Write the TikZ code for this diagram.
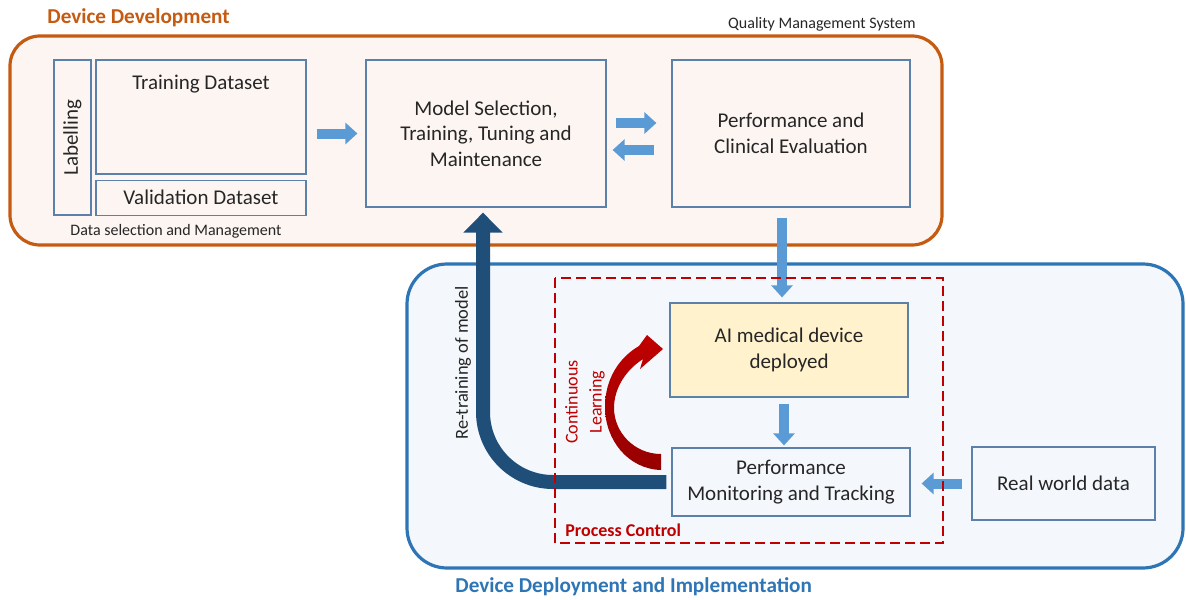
\documentclass[tikz,border=0pt]{standalone}
\usepackage{fontspec}
\setmainfont{Carlito}
\usetikzlibrary{arrows.meta,positioning}
\definecolor{devorange}{HTML}{C55A11}
\definecolor{devfill}{HTML}{FDF5F2}
\definecolor{depblue}{HTML}{2E75B6}
\definecolor{depfill}{HTML}{F4F8FC}
\definecolor{boxline}{HTML}{5B80AA}
\definecolor{aifill}{HTML}{FFF2CC}
\definecolor{arrowblue}{HTML}{5B9BD5}
\definecolor{retrainblue}{HTML}{1F4E79}
\definecolor{pcred}{HTML}{C00000}
\definecolor{cldark}{HTML}{960000}
\definecolor{txt}{HTML}{262626}

\begin{document}
\begin{tikzpicture}[x=0.5pt,y=-0.5pt,
box/.style={draw=boxline,line width=0.6pt,inner sep=0pt,align=center,text=txt,
  font=\fontsize{10.5}{12.75}\selectfont},
small/.style={text=txt,inner sep=0pt,font=\fontsize{8}{9.6}\selectfont},
title/.style={inner sep=0pt,font=\fontsize{10.6}{12.7}\selectfont\bfseries},
blockarrow/.style={-{Triangle[width=10.5pt,length=6pt]},line width=5pt,draw=arrowblue},
retrainarrow/.style={-{Triangle[width=19pt,length=10pt]},line width=7pt,draw=retrainblue}]
\useasboundingbox[fill=white] (0,0) rectangle (1186,599);

\draw[devorange,fill=devfill,line width=1.6pt,rounded corners=15pt] (10,36) rectangle (942,245);
\draw[depblue,fill=depfill,line width=1.6pt,rounded corners=20pt] (407,264) rectangle (1183,568);

\node[box,minimum width=18.5pt,minimum height=77.5pt] (label) at (72.5,137.5) {};
\node[rotate=90,text=txt,font=\fontsize{10.5}{12.75}\selectfont] at (label.center) {Labelling};
\node[box,minimum width=105pt,minimum height=57pt,
  label={[anchor=north,yshift=-4.5pt,text=txt,font=\fontsize{10.5}{12.75}\selectfont]north:Training Dataset}]
  (train) at (201,117) {};
\node[box,minimum width=105pt,minimum height=17.5pt,below=2.5pt of train] (valid) {Validation Dataset};
\node[box,minimum width=120pt,minimum height=73.5pt] (model) at (486,133.5)
  {Model Selection,\\Training, Tuning and\\Maintenance};
\node[box,minimum width=119pt,minimum height=73.5pt] (clinic) at (791,133.5)
  {Performance and\\Clinical Evaluation};
\node[box,fill=aifill,minimum width=119pt,minimum height=47pt] (ai) at (789,350)
  {AI medical device\\deployed};
\node[box,minimum width=119pt,minimum height=34pt] (monitor) at (791,482)
  {Performance\\Monitoring and Tracking};
\node[box,minimum width=91.5pt,minimum height=36.5pt] (real) at (1063.5,483.5) {Real world data};

\node[title,text=devorange,anchor=west] (devtitle) at (47,18) {Device Development};
\node[small,anchor=east] (qms) at (916,24) {Quality Management System};
\node[small] (dsm) at (176,231) {Data selection and Management};
\node[title,text=depblue,anchor=west] (deptitle) at (455,587) {Device Deployment and Implementation};

\draw[blockarrow,shorten <=5pt,shorten >=4pt] (train.east |- model.west) -- (model.west);
\draw[blockarrow,shorten <=4.5pt,shorten >=7.5pt] ([yshift=5.25pt]model.east) -- ([yshift=5.25pt]clinic.west);
\draw[blockarrow,shorten <=8.5pt,shorten >=3pt] ([yshift=-8.25pt]clinic.west) -- ([yshift=-8.25pt]model.east);
\draw[blockarrow,shorten <=5pt,shorten >=2.5pt] ([xshift=-4.5pt]clinic.south) -- ([xshift=-4.5pt]clinic.south |- ai.north);
\draw[blockarrow,shorten <=3pt,shorten >=1pt] ([xshift=-2.5pt]ai.south) -- ([xshift=-2.5pt]ai.south |- monitor.north);
\draw[blockarrow,shorten <=4.5pt,shorten >=5.5pt] (real.west) -- (real.west -| monitor.east);

\draw[retrainarrow,rounded corners=35pt] ([xshift=-2.5pt]monitor.west) -| ([xshift=-1.5pt,yshift=-2.5pt]model.south);
\node[rotate=90,text=txt,inner sep=0pt,font=\fontsize{9.2}{11}\selectfont] (retrain) at (463,363) {Re-training of model};

\shade[top color=pcred,bottom color=cldark] (661,470) .. controls (628,469) and (605,440) .. (605,407)
  .. controls (605,378) and (620,357) .. (639,346) -- (647,335) -- (663,349) -- (640,369) -- (643,359)
  .. controls (626,370) and (614,388) .. (614,408) .. controls (614,432) and (634,454) .. (661,454) -- cycle;
\node[rotate=90,text=pcred,align=center,inner sep=0pt,font=\fontsize{9}{12}\selectfont] (learn) at (585,402) {Continuous\\Learning};

\draw[pcred,line width=1.4pt,dash pattern=on 5pt off 2.5pt] (555,278) rectangle (943,543);
\node[title,text=pcred,anchor=west,font=\fontsize{9}{10.8}\selectfont\bfseries] (pc) at (565,530) {Process Control};
\end{tikzpicture}
\end{document}
